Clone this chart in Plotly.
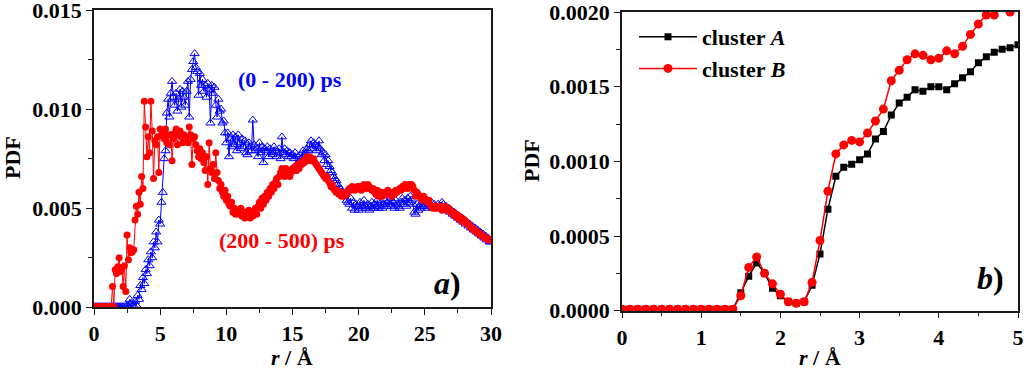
import plotly.graph_objects as go

# ---------------- Panel a data (r step 0.1 Å, 0..30) ----------------
r_a = [round(i * 0.1, 1) for i in range(301)]

pdf_0_200 = [
    0.00003, 0.00003, 0.00003, 0.00003, 0.00003, 0.00003, 0.00003, 0.00003, 0.00003, 0.00003,
    0.00003, 0.00003, 0.00003, 0.00003, 0.00003, 0.00003, 0.00003, 0.00003, 0.00003, 0.00003,
    0.00003, 0.00003, 0.00003, 0.00003, 0.00003, 0.00008, 0.00003, 0.00040, 0.00020, 0.00005,
    0.00005, 0.00030, 0.00010, 0.00060, 0.00040, 0.00110, 0.00090, 0.00150, 0.00120, 0.00190,
    0.00170, 0.00240, 0.00210, 0.00280, 0.00250, 0.00330, 0.00300, 0.00380, 0.00330, 0.00440,
    0.00420, 0.00530, 0.00580, 0.00750, 0.00790, 0.00980, 0.01050, 0.00960, 0.01080, 0.01140,
    0.01060, 0.01020, 0.01080, 0.00990, 0.01050, 0.01100, 0.01010, 0.01090, 0.01060, 0.01020,
    0.01090, 0.01140, 0.00960, 0.01150, 0.01200, 0.01240, 0.01280, 0.01210, 0.01190, 0.01070,
    0.01180, 0.01120, 0.01150, 0.01090, 0.01120, 0.01060, 0.01130, 0.01100, 0.00930, 0.01120,
    0.01080, 0.01110, 0.01020, 0.00960, 0.01050, 0.00990, 0.01000, 0.00930, 0.00940, 0.00880,
    0.00830, 0.00880, 0.00760, 0.00850, 0.00810, 0.00870, 0.00820, 0.00860, 0.00790, 0.00870,
    0.00830, 0.00800, 0.00850, 0.00810, 0.00840, 0.00780, 0.00770, 0.00830, 0.00810, 0.00790,
    0.00945, 0.00820, 0.00790, 0.00800, 0.00760, 0.00830, 0.00780, 0.00810, 0.00730, 0.00800,
    0.00790, 0.00810, 0.00760, 0.00800, 0.00780, 0.00770, 0.00810, 0.00790, 0.00760, 0.00780,
    0.00800, 0.00750, 0.00860, 0.00780, 0.00800, 0.00770, 0.00790, 0.00760, 0.00780, 0.00760,
    0.00770, 0.00750, 0.00780, 0.00720, 0.00760, 0.00730, 0.00770, 0.00750, 0.00790, 0.00770,
    0.00780, 0.00800, 0.00790, 0.00820, 0.00840, 0.00800, 0.00830, 0.00820, 0.00790, 0.00810,
    0.00840, 0.00800, 0.00770, 0.00780, 0.00740, 0.00770, 0.00720, 0.00740, 0.00710, 0.00690,
    0.00680, 0.00660, 0.00650, 0.00640, 0.00620, 0.00610, 0.00600, 0.00580, 0.00580, 0.00560,
    0.00570, 0.00540, 0.00530, 0.00520, 0.00550, 0.00500, 0.00530, 0.00490, 0.00520, 0.00510,
    0.00490, 0.00530, 0.00510, 0.00500, 0.00540, 0.00510, 0.00500, 0.00520, 0.00490, 0.00510,
    0.00530, 0.00500, 0.00520, 0.00510, 0.00540, 0.00500, 0.00510, 0.00530, 0.00500, 0.00520,
    0.00540, 0.00510, 0.00530, 0.00520, 0.00550, 0.00510, 0.00530, 0.00500, 0.00540, 0.00520,
    0.00510, 0.00500, 0.00530, 0.00550, 0.00520, 0.00540, 0.00510, 0.00550, 0.00530, 0.00560,
    0.00540, 0.00520, 0.00480, 0.00470, 0.00520, 0.00490, 0.00510, 0.00500, 0.00530, 0.00520,
    0.00510, 0.00530, 0.00500, 0.00520, 0.00510, 0.00530, 0.00500, 0.00520, 0.00510, 0.00500,
    0.00520, 0.00500, 0.00510, 0.00530, 0.00520, 0.00500, 0.00510, 0.00490, 0.00500, 0.00480,
    0.00490, 0.00470, 0.00480, 0.00460, 0.00470, 0.00450, 0.00460, 0.00440, 0.00450, 0.00430,
    0.00440, 0.00420, 0.00430, 0.00410, 0.00420, 0.00400, 0.00410, 0.00390, 0.00400, 0.00380,
    0.00390, 0.00370, 0.00380, 0.00360, 0.00370, 0.00350, 0.00360, 0.00340, 0.00350, 0.00330,
    0.00330,
]

pdf_200_500 = [
    0.00003, 0.00003, 0.00003, 0.00003, 0.00003, 0.00003, 0.00003, 0.00003, 0.00003, 0.00003,
    0.00003, 0.00003, 0.00003, 0.00003, 0.00105, 0.00003, 0.00190, 0.00170, 0.00205, 0.00250,
    0.00180, 0.00200, 0.00105, 0.00210, 0.00080, 0.00365, 0.00240, 0.00300, 0.00275, 0.00280,
    0.00290, 0.00440, 0.00510, 0.00470, 0.00580, 0.00520, 0.00660, 0.00600, 0.01040, 0.00910,
    0.00760, 0.00860, 0.00780, 0.01040, 0.00890, 0.00650, 0.00840, 0.00820, 0.00860, 0.00680,
    0.00900, 0.00870, 0.00880, 0.00850, 0.00900, 0.00830, 0.00870, 0.00820, 0.00870, 0.00740,
    0.00850, 0.00880, 0.00900, 0.00820, 0.00870, 0.00890, 0.00860, 0.00830, 0.00870, 0.00850,
    0.00860, 0.00830, 0.00910, 0.00870, 0.00720, 0.00850, 0.00860, 0.00820, 0.00790, 0.00760,
    0.00800, 0.00750, 0.00780, 0.00730, 0.00690, 0.00760, 0.00620, 0.00830, 0.00700, 0.00680,
    0.00720, 0.00650, 0.00780, 0.00680, 0.00640, 0.00600, 0.00620, 0.00580, 0.00560, 0.00590,
    0.00540, 0.00560, 0.00520, 0.00510, 0.00530, 0.00480, 0.00500, 0.00470, 0.00490, 0.00480,
    0.00470, 0.00500, 0.00460, 0.00480, 0.00450, 0.00470, 0.00460, 0.00490, 0.00450, 0.00470,
    0.00460, 0.00480, 0.00500, 0.00470, 0.00510, 0.00530, 0.00500, 0.00550, 0.00520, 0.00560,
    0.00540, 0.00580, 0.00560, 0.00600, 0.00580, 0.00620, 0.00600, 0.00630, 0.00650, 0.00620,
    0.00660, 0.00680, 0.00700, 0.00690, 0.00660, 0.00700, 0.00680, 0.00690, 0.00660, 0.00680,
    0.00700, 0.00690, 0.00710, 0.00690, 0.00720, 0.00700, 0.00730, 0.00720, 0.00740, 0.00730,
    0.00750, 0.00760, 0.00740, 0.00760, 0.00750, 0.00740, 0.00750, 0.00730, 0.00720, 0.00710,
    0.00700, 0.00690, 0.00680, 0.00670, 0.00660, 0.00650, 0.00660, 0.00640, 0.00630, 0.00610,
    0.00620, 0.00600, 0.00590, 0.00580, 0.00590, 0.00570, 0.00580, 0.00560, 0.00570, 0.00560,
    0.00580, 0.00570, 0.00590, 0.00600, 0.00590, 0.00610, 0.00600, 0.00590, 0.00600, 0.00610,
    0.00600, 0.00610, 0.00590, 0.00600, 0.00620, 0.00610, 0.00600, 0.00620, 0.00610, 0.00600,
    0.00590, 0.00600, 0.00580, 0.00570, 0.00590, 0.00560, 0.00570, 0.00580, 0.00560, 0.00570,
    0.00580, 0.00570, 0.00590, 0.00580, 0.00570, 0.00560, 0.00580, 0.00570, 0.00590, 0.00580,
    0.00590, 0.00600, 0.00590, 0.00610, 0.00600, 0.00620, 0.00610, 0.00600, 0.00620, 0.00610,
    0.00620, 0.00610, 0.00590, 0.00560, 0.00580, 0.00570, 0.00560, 0.00550, 0.00540, 0.00560,
    0.00550, 0.00540, 0.00530, 0.00540, 0.00520, 0.00510, 0.00500, 0.00510, 0.00500, 0.00510,
    0.00500, 0.00510, 0.00500, 0.00490, 0.00500, 0.00510, 0.00500, 0.00490, 0.00500, 0.00490,
    0.00480, 0.00470, 0.00480, 0.00460, 0.00470, 0.00450, 0.00460, 0.00440, 0.00450, 0.00430,
    0.00440, 0.00430, 0.00420, 0.00420, 0.00410, 0.00400, 0.00400, 0.00390, 0.00390, 0.00380,
    0.00380, 0.00370, 0.00370, 0.00360, 0.00360, 0.00350, 0.00350, 0.00350, 0.00340, 0.00340,
    0.00340,
]

# ---------------- Panel b data (r step 0.1 Å, 0..5) ----------------
r_b = [round(i * 0.1, 1) for i in range(51)]

pdf_cluster_A = [
    0.00001, 0.00001, 0.00001, 0.00001, 0.00001, 0.00001, 0.00001, 0.00001, 0.00001, 0.00001,
    0.00001, 0.00001, 0.00001, 0.00001, 0.00001, 0.00012, 0.00023, 0.00032, 0.00025, 0.00015,
    0.00010, 0.00006, 0.00005, 0.00006, 0.00017, 0.00038, 0.00068, 0.00090, 0.00096, 0.00098,
    0.00101, 0.00105, 0.00115, 0.00120, 0.00131, 0.00139, 0.00143, 0.00148, 0.00147, 0.00150,
    0.00150, 0.00148, 0.00152, 0.00156, 0.00160, 0.00166, 0.00170, 0.00173, 0.00175, 0.00176,
    0.00178,
]

pdf_cluster_B = [
    0.00001, 0.00001, 0.00001, 0.00001, 0.00001, 0.00001, 0.00001, 0.00001, 0.00001, 0.00001,
    0.00001, 0.00001, 0.00001, 0.00001, 0.00001, 0.00010, 0.00029, 0.00036, 0.00025, 0.00018,
    0.00011, 0.00006, 0.00005, 0.00006, 0.00019, 0.00047, 0.00080, 0.00105, 0.00111, 0.00114,
    0.00113, 0.00119, 0.00127, 0.00135, 0.00154, 0.00161, 0.00168, 0.00172, 0.00171, 0.00168,
    0.00169, 0.00174, 0.00172, 0.00177, 0.00185, 0.00192, 0.00198, 0.00198, 0.00205, 0.00200,
    0.00210,
]

# tick labels
xticks_a = [0, 5, 10, 15, 20, 25, 30]
yticks_a = [0.0, 0.005, 0.010, 0.015]
yticktext_a = ["0.000", "0.005", "0.010", "0.015"]
xticks_b = [0, 1, 2, 3, 4, 5]
yticks_b = [0.0, 0.0005, 0.0010, 0.0015, 0.0020]
yticktext_b = ["0.0000", "0.0005", "0.0010", "0.0015", "0.0020"]

W, H = 1024, 368
FONT = "Liberation Serif, Times New Roman, serif"

def px_x(p):
    return p / W

def px_y(p):
    return 1 - p / H

fig = go.Figure()

fig.add_trace(go.Scatter(
    x=r_a, y=pdf_0_200, mode="lines+markers", showlegend=False,
    line=dict(color="#0000ff", width=1),
    marker=dict(symbol="triangle-up-open", size=8, color="#0000ff", line=dict(width=1)),
    xaxis="x", yaxis="y",
))
fig.add_trace(go.Scatter(
    x=r_a, y=pdf_200_500, mode="lines+markers", showlegend=False,
    line=dict(color="#ff0000", width=1),
    marker=dict(symbol="circle", size=7, color="#ff0000"),
    xaxis="x", yaxis="y",
))
fig.add_trace(go.Scatter(
    x=r_b, y=pdf_cluster_A, mode="lines+markers", name="cluster <i>A</i>",
    line=dict(color="#000000", width=1.5),
    marker=dict(symbol="square", size=7, color="#000000"),
    xaxis="x2", yaxis="y2",
))
fig.add_trace(go.Scatter(
    x=r_b, y=pdf_cluster_B, mode="lines+markers", name="cluster <i>B</i>",
    line=dict(color="#ff0000", width=1.5),
    marker=dict(symbol="circle", size=9, color="#ff0000"),
    xaxis="x2", yaxis="y2",
))

axis_common = dict(
    showline=True, linecolor="#1a1a1a", linewidth=1.5, mirror=True,
    ticks="outside", ticklen=6, tickwidth=1.2, tickcolor="#1a1a1a",
    showgrid=False, zeroline=False, automargin=False, ticklabeloverflow="allow",
    tickfont=dict(family=FONT, size=22, color="#000000", weight="bold"),
)
minor_common = dict(ticklen=4, ticks="outside", tickcolor="#1a1a1a", tickwidth=1.2, showgrid=False)

fig.update_layout(
    template="none",
    width=W, height=H,
    margin=dict(l=0, r=0, t=0, b=0, autoexpand=False),
    plot_bgcolor="white", paper_bgcolor="white",
    font=dict(family=FONT, size=22, color="#000000", weight="bold"),
    xaxis=dict(domain=[px_x(94), px_x(491)], range=[0, 30],
               tickmode="array", tickvals=xticks_a, ticktext=[str(v) for v in xticks_a],
               minor=dict(dtick=2.5, tick0=0, **minor_common),
               anchor="y", **axis_common),
    yaxis=dict(domain=[px_y(307.3), px_y(10)], range=[0, 0.015],
               tickmode="array", tickvals=yticks_a, ticktext=yticktext_a,
               minor=dict(dtick=0.0025, tick0=0, **minor_common),
               anchor="x", **axis_common),
    xaxis2=dict(domain=[px_x(622), px_x(1018)], range=[0, 5],
                tickmode="array", tickvals=xticks_b, ticktext=[str(v) for v in xticks_b],
                minor=dict(dtick=0.5, tick0=0, **minor_common),
                anchor="y2", **axis_common),
    yaxis2=dict(domain=[px_y(310.7), px_y(12)], range=[0, 0.002],
                tickmode="array", tickvals=yticks_b, ticktext=yticktext_b,
                minor=dict(dtick=0.00025, tick0=0, **minor_common),
                anchor="x2", **axis_common),
    legend=dict(x=px_x(634), y=px_y(16), xanchor="left", yanchor="top",
                itemwidth=58, bgcolor="rgba(0,0,0,0)", borderwidth=0, tracegroupgap=0,
                font=dict(family=FONT, size=22, color="#000000", weight="bold")),
)

ann_font = dict(family=FONT, size=22, weight="bold")
annotations = [
    dict(x=px_x(290), y=px_y(80), text="(0 - 200) ps", font=dict(ann_font, color="#0000ff")),
    dict(x=px_x(282), y=px_y(240), text="(200 - 500) ps", font=dict(ann_font, color="#ff0000")),
    dict(x=px_x(447), y=px_y(283), text="<i>a</i>)", font=dict(family=FONT, size=32, weight="bold", color="#000000")),
    dict(x=px_x(990), y=px_y(278), text="<i>b</i>)", font=dict(family=FONT, size=32, weight="bold", color="#000000")),
    dict(x=px_x(12), y=px_y(158), text="PDF", textangle=-90, font=dict(ann_font, color="#000000")),
    dict(x=px_x(531), y=px_y(161), text="PDF", textangle=-90, font=dict(ann_font, color="#000000")),
    dict(x=px_x(292), y=px_y(357), text="<i>r</i> / Å", font=dict(ann_font, color="#000000")),
    dict(x=px_x(820), y=px_y(357), text="<i>r</i> / Å", font=dict(ann_font, color="#000000")),
]
for a in annotations:
    a.update(xref="paper", yref="paper", showarrow=False, xanchor="center", yanchor="middle")
    fig.add_annotation(**a)

fig.write_html(
    "out.html",
    config={"displayModeBar": False},
    post_script="document.body.style.margin='0';document.body.style.overflow='hidden';",
)
